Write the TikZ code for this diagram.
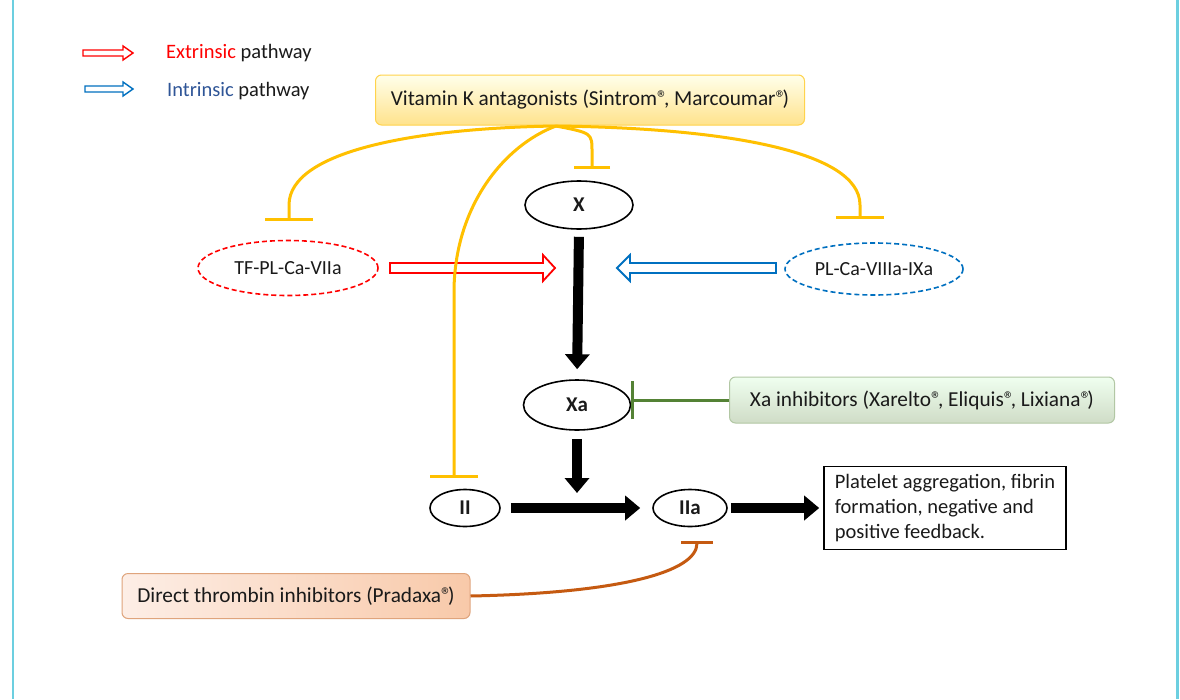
\documentclass[tikz,border=0pt]{standalone}
\usepackage{fontspec}
\setmainfont{Carlito}
\usetikzlibrary{arrows.meta,shapes.geometric}
\definecolor{vkline}{HTML}{FFC000}
\definecolor{grnline}{HTML}{548235}
\definecolor{brnline}{HTML}{C55A11}
\definecolor{brnL}{HTML}{FDEEE6}
\definecolor{brnR}{HTML}{F8C9A9}
\definecolor{extrred}{HTML}{FF0000}
\definecolor{intrblue}{HTML}{0070C0}
\definecolor{intrtext}{HTML}{2F5597}
\definecolor{framecyan}{HTML}{6CCFE0}
\definecolor{txt}{HTML}{1A1A1A}
\newcommand\outarrow[7]{\draw[#1] (#2,{#4-#5}) -- ({#3-#7},{#4-#5}) -- ({#3-#7},{#4-#6}) -- (#3,#4) -- ({#3-#7},{#4+#6}) -- ({#3-#7},{#4+#5}) -- (#2,{#4+#5}) -- cycle;}
\newcommand\reg{®\kern-0.18em}
\tikzset{
  ell/.style={ellipse, draw=black, line width=1.6pt, inner sep=0pt, font=\fontsize{21}{24}\selectfont\bfseries, text=txt},
  dashell/.style={ellipse, line width=1.6pt, dash pattern=on 5pt off 3pt, inner sep=0pt, font=\fontsize{20}{24}\selectfont, text=txt},
  drugbox/.style={rounded corners=6pt, line width=1pt, inner sep=0pt, font=\fontsize{21.3}{24}\selectfont, text=txt},
  blk/.style={line width=10pt, -{Triangle[width=24pt,length=15pt]}},
  vk/.style={vkline, line width=3pt, -{Bar[width=48pt]}},
  extr/.style={extrred, line width=1.8pt, line join=miter},
  intr/.style={intrblue, line width=1.8pt, line join=miter},
}
\begin{document}
\begin{tikzpicture}[x=1pt,y=-1pt]
\useasboundingbox (0,0) rectangle (1180,699);
\fill[white] (0,0) rectangle (1180,699);
% frame
\draw[framecyan, line width=2pt] (13,0) -- (13,699);
\draw[framecyan, line width=3pt] (1177,0) -- (1177,699);

% legend
\outarrow{extr, line width=1.4pt}{83}{133}{53}{3}{7}{10}
\outarrow{intr, line width=1.4pt}{85}{133}{89}{3}{7}{10}
\node[anchor=west, font=\fontsize{20.5}{24}\selectfont, inner sep=0pt] (legE) at (166,53) {\textcolor{extrred}{Extrinsic} \textcolor{txt}{pathway}};
\node[anchor=west, font=\fontsize{20.5}{24}\selectfont, inner sep=0pt] (legI) at (167,91) {\textcolor{intrtext}{Intrinsic} \textcolor{txt}{pathway}};

% drug boxes
\node[drugbox, draw=vkline!70, top color=yellow!8, bottom color=vkline!45, minimum width=429pt, minimum height=50pt] (VKA) at (590,100) {Vitamin K antagonists (Sintrom\reg, Marcoumar\reg)};
\node[drugbox, draw=grnline!45, top color=green!6!white, bottom color=grnline!28, minimum width=385pt, minimum height=46pt] (XaI) at (922,400) {Xa inhibitors (Xarelto\reg, Eliquis\reg, Lixiana\reg)};
\node[drugbox, draw=brnline!55, left color=brnL, right color=brnR, minimum width=348pt, minimum height=45pt] (DTI) at (296,596) {Direct thrombin inhibitors (Pradaxa\reg)};

% factor nodes
\node[ell, minimum width=108pt, minimum height=48pt] (X) at (579,205) {X};
\node[ell, minimum width=107pt, minimum height=50pt] (Xa) at (577,405) {Xa};
\node[ell, minimum width=70pt, minimum height=37pt] (II) at (465,508) {II};
\node[ell, minimum width=74pt, minimum height=37pt] (IIa) at (690,508) {IIa};
\node[dashell, draw=extrred, minimum width=180pt, minimum height=55pt] (TF) at (288,268) {TF-PL-Ca-VIIa};
\node[dashell, draw=intrblue, minimum width=178pt, minimum height=52pt] (PL) at (874,269) {PL-Ca-VIIIa-IXa};
\node[draw=black, line width=1.6pt, minimum width=242pt, minimum height=83pt, align=left, inner sep=6pt, font=\fontsize{20.5}{25}\selectfont, text=txt] (Out) at (945,508) {Platelet aggregation, fibrin\\formation, negative and\\positive feedback.};

% pathway arrows
\outarrow{extr}{390}{555}{268}{5}{13}{12}
\outarrow{intr}{776}{617}{268}{5}{13}{-13}

% cascade arrows
\coordinate (mid) at (577,493);
\draw[blk, shorten <=7pt, shorten >=10pt] (X.south) -- (Xa.north);
\draw[blk, shorten <=8pt] (Xa.south) -- (mid);
\draw[blk, shorten <=10pt, shorten >=12pt] (II.east) -- (IIa.west);
\draw[blk, shorten <=3pt, shorten >=4pt] (IIa.east) -- (Out.west);

% vitamin K inhibitions
\coordinate (vkS) at (556,126);
\coordinate (tTF) at (289,221);
\coordinate (tPL) at (860,219);
\coordinate (tX) at (592,169);
\coordinate (tII) at (454,478);
\draw[vk] (vkS) .. controls (420,128) and (289,150) .. (289,205) -- (tTF);
\draw[vk] (vkS) .. controls (720,128) and (860,150) .. (860,205) -- (tPL);
\draw[vk, -{Bar[width=36pt]}] (vkS) .. controls (592,133) .. (592,152) -- (tX);
\draw[vk] (vkS) .. controls (505,145) and (455,205) .. (454,290) -- (tII);

% Xa inhibitors
\draw[grnline, line width=3pt, -{Bar[width=38pt]}] (XaI.west) -- (XaI.west -| Xa.east);
% thrombin inhibitors
\coordinate (tIIa) at (697,541);
\draw[brnline, line width=3pt, -{Bar[width=32pt]}] (DTI.east) .. controls (620,593) and (697,572) .. (tIIa);
\end{tikzpicture}
\end{document}
